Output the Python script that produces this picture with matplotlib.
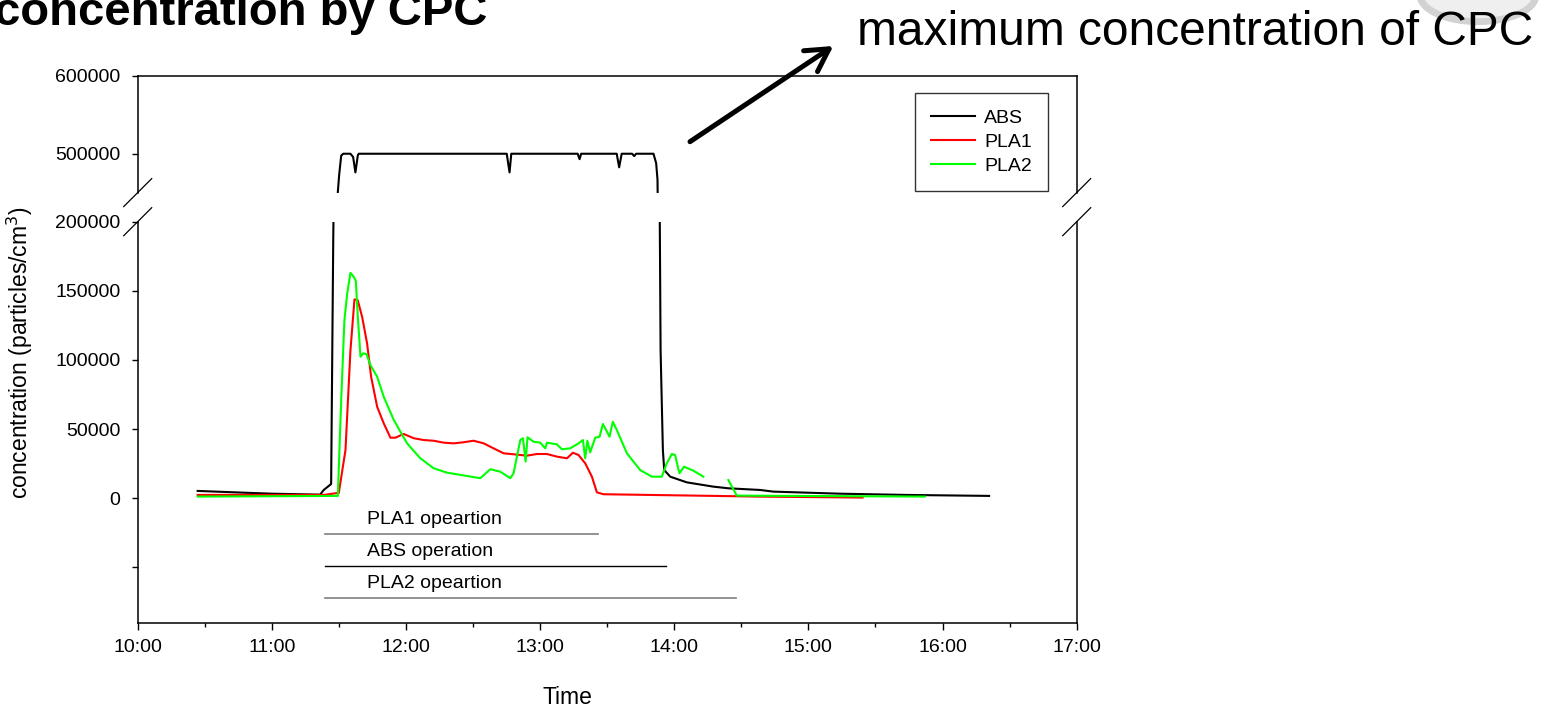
import matplotlib
matplotlib.use("Agg")
import matplotlib.pyplot as plt
import numpy as np
from matplotlib.lines import Line2D
from matplotlib.patches import FancyArrowPatch, Circle

plt.rcParams['font.family'] = ['Liberation Sans', 'DejaVu Sans']

# ---------------- data ----------------
hour_ticks = [10, 11, 12, 13, 14, 15, 16, 17]
hour_labels = ["10:00", "11:00", "12:00", "13:00", "14:00", "15:00", "16:00", "17:00"]
upper_yticks = [500000, 600000]
upper_ylabels = ["500000", "600000"]
lower_yticks = [-50000, 0, 50000, 100000, 150000, 200000]
lower_ylabels = ["", "0", "50000", "100000", "150000", "200000"]

# time in decimal hours
abs_t = [10.447, 10.80, 11.00, 11.36, 11.387, 11.442, 11.458, 11.492, 11.502, 11.517,
         11.532, 11.586, 11.606, 11.623, 11.641, 11.648, 12.10, 12.40, 12.751, 12.772,
         12.785, 13.00, 13.280, 13.294, 13.306, 13.571, 13.589, 13.608, 13.686, 13.701,
         13.716, 13.845, 13.865, 13.875, 13.898, 13.915, 13.925, 13.970, 14.093, 14.291,
         14.403, 14.639, 14.738, 15.235, 15.732, 16.347]
abs_v = [5300, 4000, 3300, 2600, 6000, 10300, 190000, 451000, 473000, 497500,
         500000, 500000, 495800, 476000, 498000, 500000, 500000, 500000, 500000, 476000,
         500000, 500000, 500000, 493000, 500000, 500000, 482500, 500000, 500000, 497000,
         500000, 500000, 487800, 466600, 107000, 35000, 20400, 15600, 11500, 8400,
         7200, 6000, 4800, 3300, 2400, 1700]

pla1_t = [10.447, 11.387, 11.474, 11.499, 11.549, 11.586, 11.616, 11.640, 11.673, 11.710,
          11.740, 11.785, 11.834, 11.884, 11.921, 11.983, 12.058, 12.132, 12.206, 12.281,
          12.355, 12.430, 12.504, 12.579, 12.653, 12.728, 12.802, 12.902, 12.976, 13.051,
          13.125, 13.200, 13.244, 13.286, 13.336, 13.386, 13.423, 13.472, 14.639, 15.404]
pla1_v = [2400, 2400, 3600, 3800, 34900, 107000, 143800, 143300, 131200, 112000,
          87900, 66200, 54200, 43800, 43800, 46500, 43400, 42100, 41600, 40200,
          39700, 40500, 41600, 39700, 36100, 32500, 31800, 30800, 32000, 32000,
          30100, 28900, 32900, 31300, 25300, 15600, 4300, 2900, 1200, 500]

pla2_t = [10.447, 11.492, 11.517, 11.541, 11.562, 11.586, 11.611, 11.626, 11.641, 11.661,
          11.681, 11.705, 11.735, 11.785, 11.834, 11.909, 12.008, 12.107, 12.206, 12.306,
          12.455, 12.554, 12.629, 12.703, 12.778, 12.802, 12.852, 12.872, 12.892, 12.906,
          12.951, 13.001, 13.038, 13.051, 13.125, 13.163, 13.224, 13.286, 13.319, 13.336,
          13.352, 13.373, 13.411, 13.443, 13.468, 13.492, 13.517, 13.542, 13.572, 13.647,
          13.746, 13.833, 13.907, 13.944, 13.982, 14.006, 14.038, 14.073, 14.143, 14.217,
          14.30, 14.403, 14.466, 15.868]
pla2_v = [1200, 1700, 71000, 128700, 148100, 163000, 160100, 157200, 131200, 102300,
          104800, 104300, 96300, 87900, 73400, 56600, 39700, 28900, 21700, 18500,
          16100, 14500, 21000, 19200, 14500, 18100, 42100, 43400, 26500, 44100,
          40900, 40200, 36100, 40200, 39000, 35400, 36100, 39700, 42100, 28900,
          41600, 33200, 43800, 44500, 53700, 49300, 44500, 55300, 49300, 32500,
          20400, 15600, 15600, 25300, 32000, 31300, 18100, 22800, 19900, 15600,
          np.nan, 13200, 1900, 1200]

series_names = ["ABS", "PLA1", "PLA2"]
series_colors = ["black", "#ff0000", "#00ff00"]

op_names = ["PLA1 opeartion", "ABS operation", "PLA2 opeartion"]
op_start = [11.397, 11.397, 11.397]
op_end = [13.431, 13.936, 14.462]
op_rows = [-26000, -49100, -72300]
op_colors = ["#808080", "black", "#808080"]

# ---------------- figure ----------------
W, H = 1541, 707
fig = plt.figure(figsize=(W / 100, H / 100), dpi=100)

def fx(px):
    return px / W

def fy(py):
    return 1 - py / H

left, right = 137.7, 1076.7
up_top, up_bot = 76.0, 192.6
lo_top, lo_bot = 221.7, 622.7

ax_up = fig.add_axes([fx(left), fy(up_bot), (right - left) / W, (up_bot - up_top) / H])
ax_lo = fig.add_axes([fx(left), fy(lo_bot), (right - left) / W, (lo_bot - lo_top) / H])

series = [(abs_t, abs_v), (pla1_t, pla1_v), (pla2_t, pla2_v)]
handles = []
for ax in (ax_up, ax_lo):
    for (t, v), name, col in zip(series, series_names, series_colors):
        ln, = ax.plot(t, v, color=col, lw=1.5, label=name, solid_joinstyle='round')
        if ax is ax_lo:
            handles.append(ln)

for name, s, e, r, c in zip(op_names, op_start, op_end, op_rows, op_colors):
    ax_lo.plot([s, e], [r, r], color=c, lw=1.2 if c != "black" else 1.0)
    ax_lo.text(11.706, r + 10500, name, fontsize=14, ha='left', va='center')

for ax in (ax_up, ax_lo):
    ax.set_xlim(10, 17)
    for sp in ax.spines.values():
        sp.set_linewidth(1.1)
ax_up.set_ylim(450000, 600000)
ax_lo.set_ylim(-90000, 200000)

ax_up.spines['bottom'].set_visible(False)
ax_lo.spines['top'].set_visible(False)

ax_up.set_xticks([])
ax_up.set_yticks(upper_yticks)
ax_up.set_yticklabels(upper_ylabels)
ax_lo.set_yticks(lower_yticks)
ax_lo.set_yticklabels(lower_ylabels)
ax_lo.set_xticks(hour_ticks)
ax_lo.set_xticklabels(hour_labels)
ax_lo.set_xticks([h + 0.5 for h in hour_ticks[:-1]], minor=True)

for ax in (ax_up, ax_lo):
    ax.tick_params(axis='y', direction='out', length=4.5, width=1.0, pad=8, labelsize=14)
ax_lo.tick_params(axis='x', which='major', direction='out', length=5, width=1.0, pad=7, labelsize=14)
ax_lo.tick_params(axis='x', which='minor', direction='out', length=3, width=1.0)

# legend
leg = ax_lo.legend(handles=handles, loc='upper left',
                   bbox_to_anchor=(fx(915), fy(93.3)), bbox_transform=fig.transFigure,
                   borderaxespad=0, fontsize=14, frameon=True, fancybox=False,
                   handlelength=2.25, handletextpad=0.5, labelspacing=0.34,
                   borderpad=0.82)
leg.get_frame().set_edgecolor('black')
leg.get_frame().set_linewidth(1.0)

# break marks
for cx, cy in [(left, up_bot), (left, lo_top), (right, up_bot), (right, lo_top)]:
    fig.add_artist(Line2D([fx(cx - 14), fx(cx + 14)], [fy(cy + 14), fy(cy - 14)],
                          color='black', lw=0.9, transform=fig.transFigure))

# labels
fig.text(fx(20), fy(353), "concentration (particles/cm$^3$)", rotation=90,
         ha='center', va='center', fontsize=16.5)
fig.text(fx(567), fy(697), "Time", ha='center', va='center', fontsize=16.5)

# watermark-like faint seal
fig.add_artist(Circle((fx(1478), fy(-5)), 58 / W, transform=fig.transFigure,
                      facecolor='#efefef', edgecolor='#d2d2d2', lw=5, zorder=0))

# title texts
fig.text(fx(487), fy(25), "concentration by CPC", ha='right', va='baseline',
         fontsize=34, fontweight='bold')
fig.text(fx(1533), fy(45), "maximum concentration of CPC", ha='right', va='baseline',
         fontsize=34.5)

# arrow
fig.add_artist(FancyArrowPatch((fx(690), fy(141.7)), (fx(833.3), fy(46)),
                               transform=fig.transFigure,
                               arrowstyle='->,head_length=0.8,head_width=0.45',
                               mutation_scale=20, lw=3.6, color='black',
                               shrinkA=0, shrinkB=0))

fig.savefig("out.png", dpi=100)
